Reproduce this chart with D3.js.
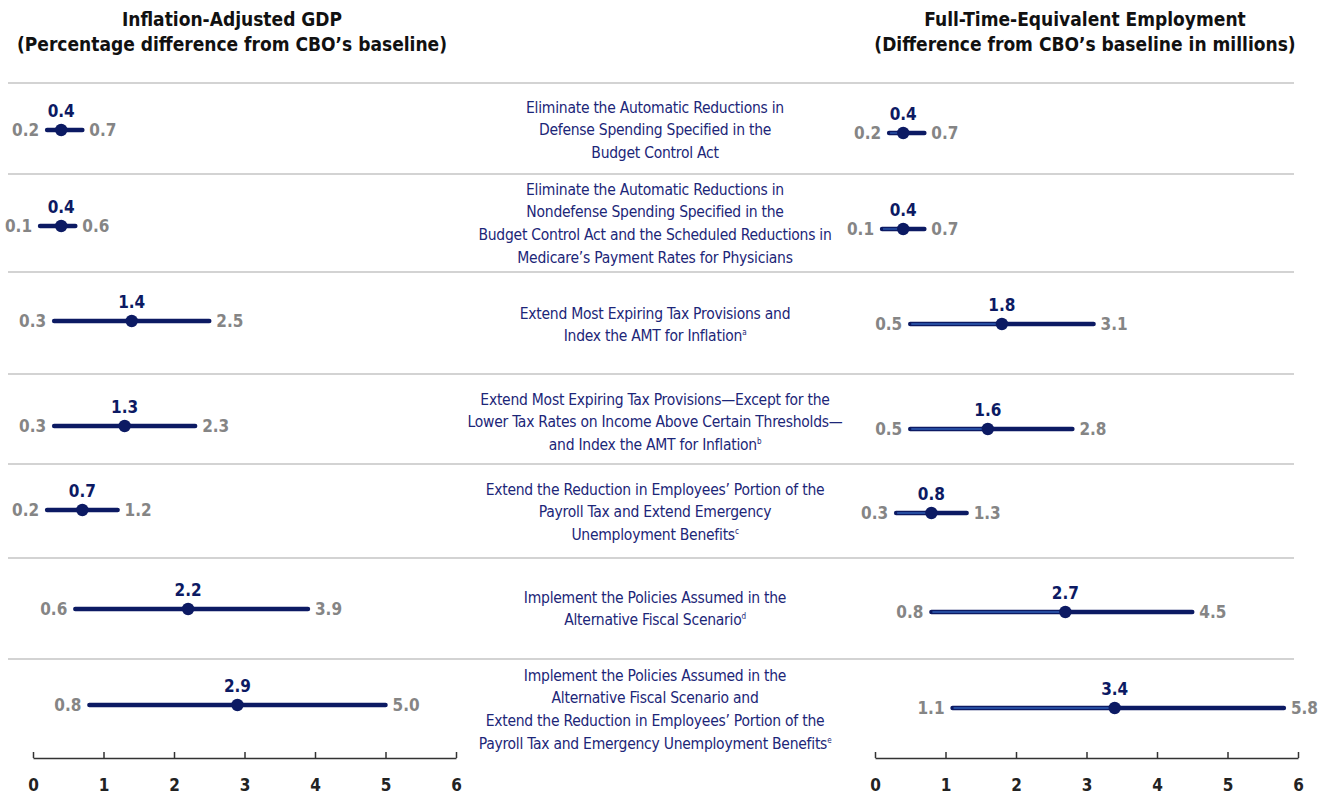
<!DOCTYPE html>
<html>
<head>
<meta charset="utf-8">
<script src="https://cdn.jsdelivr.net/npm/d3@7"></script>
<style>
  html, body { margin: 0; padding: 0; background: #fff; }
  svg { display: block; }
</style>
</head>
<body>
<svg id="chart" width="1329" height="797"></svg>
<script>
// Policy options (multi-line labels, optional footnote letter)
const policies = [
  { lines: ["Eliminate the Automatic Reductions in", "Defense Spending Specified in the", "Budget Control Act"], note: "" },
  { lines: ["Eliminate the Automatic Reductions in", "Nondefense Spending Specified in the", "Budget Control Act and the Scheduled Reductions in", "Medicare\u2019s Payment Rates for Physicians"], note: "" },
  { lines: ["Extend Most Expiring Tax Provisions and", "Index the AMT for Inflation"], note: "a" },
  { lines: ["Extend Most Expiring Tax Provisions\u2014Except for the", "Lower Tax Rates on Income Above Certain Thresholds\u2014", "and Index the AMT for Inflation"], note: "b" },
  { lines: ["Extend the Reduction in Employees\u2019 Portion of the", "Payroll Tax and Extend Emergency", "Unemployment Benefits"], note: "c" },
  { lines: ["Implement the Policies Assumed in the", "Alternative Fiscal Scenario"], note: "d" },
  { lines: ["Implement the Policies Assumed in the", "Alternative Fiscal Scenario and", "Extend the Reduction in Employees\u2019 Portion of the", "Payroll Tax and Emergency Unemployment Benefits"], note: "e" }
];

// Inflation-adjusted GDP, percentage difference from baseline
const gdpLow  = [0.2, 0.1, 0.3, 0.3, 0.2, 0.6, 0.8];
const gdpMid  = [0.4, 0.4, 1.4, 1.3, 0.7, 2.2, 2.9];
const gdpHigh = [0.7, 0.6, 2.5, 2.3, 1.2, 3.9, 5.0];

// Full-time-equivalent employment, millions
const empLow  = [0.2, 0.1, 0.5, 0.5, 0.3, 0.8, 1.1];
const empMid  = [0.4, 0.4, 1.8, 1.6, 0.8, 2.7, 3.4];
const empHigh = [0.7, 0.7, 3.1, 2.8, 1.3, 4.5, 5.8];

const axisTicks = [0, 1, 2, 3, 4, 5, 6];

const NAVY = "#0c1a63";
const LABEL_NAVY = "#1c2678";
const GREY = "#858585";
const FONT = "'Liberation Sans Narrow', 'DejaVu Sans Condensed', 'Open Sans', sans-serif";

const svg = d3.select("#chart");

// Row geometry: separator lines, dot rows, text line baselines
const separators = [83, 174, 272, 374, 464, 558, 659];
const rowY = [130, 226, 321, 426, 510, 609, 705];
const textTop = [107, 189, 313, 399, 489, 597, 675];
const lineH = 22.8;

svg.selectAll("line.sep").data(separators).join("line")
  .attr("class", "sep")
  .attr("x1", 8).attr("x2", 1294)
  .attr("y1", d => d).attr("y2", d => d)
  .attr("stroke", "#c4c4c4").attr("stroke-width", 1.5);

// Panel titles
const titles = [
  { x: 232, lines: ["Inflation-Adjusted GDP", "(Percentage difference from CBO\u2019s baseline)"] },
  { x: 1085, lines: ["Full-Time-Equivalent Employment", "(Difference from CBO\u2019s baseline in millions)"] }
];
titles.forEach(t => {
  const tx = svg.append("text")
    .attr("x", t.x).attr("y", 26)
    .attr("text-anchor", "middle")
    .attr("font-family", FONT)
    .attr("font-weight", "bold")
    .attr("font-size", 19)
    .attr("fill", "#111");
  t.lines.forEach((l, i) => tx.append("tspan").attr("x", t.x).attr("dy", i ? 25 : 0).text(l));
});

// Centre policy labels
policies.forEach((p, i) => {
  const g = svg.append("text")
    .attr("text-anchor", "middle")
    .attr("font-family", FONT)
    .attr("font-size", 15.5)
    .attr("letter-spacing", -0.25)
    .attr("fill", LABEL_NAVY);
  p.lines.forEach((l, j) => {
    g.append("tspan").attr("x", 655).attr("y", textTop[i] + j * lineH + 5.5).text(l);
    if (j === p.lines.length - 1 && p.note) {
      g.append("tspan").attr("dy", -6).attr("font-size", 8).text(p.note);
    }
  });
});

function panel(x0, yOff, low, mid, high, stripe) {
  const x = d3.scaleLinear().domain([0, 6]).range([x0, x0 + 423]);
  const g = svg.append("g");
  const rows = low.map((d, i) => ({ lo: d, mid: mid[i], hi: high[i], y: rowY[i] + yOff }));

  g.selectAll("line.range").data(rows).join("line")
    .attr("x1", d => x(d.lo)).attr("x2", d => x(d.hi))
    .attr("y1", d => d.y).attr("y2", d => d.y)
    .attr("stroke", NAVY).attr("stroke-width", 4.5).attr("stroke-linecap", "round");

  if (stripe) {
    g.selectAll("line.stripe").data(rows).join("line")
      .attr("x1", d => x(d.lo) + 1).attr("x2", d => x(d.mid))
      .attr("y1", d => d.y).attr("y2", d => d.y)
      .attr("stroke", "#2f5eb4").attr("stroke-width", 1.3);
  }

  g.selectAll("circle").data(rows).join("circle")
    .attr("cx", d => x(d.mid)).attr("cy", d => d.y).attr("r", 6.2)
    .attr("fill", NAVY);

  const lbl = (sel) => sel.attr("font-family", FONT).attr("font-weight", "bold").attr("font-size", 17);

  g.selectAll("text.mid").data(rows).join("text")
    .call(lbl)
    .attr("x", d => x(d.mid)).attr("y", d => d.y - 13)
    .attr("text-anchor", "middle").attr("fill", NAVY)
    .text(d => d.mid.toFixed(1));

  g.selectAll("text.lo").data(rows).join("text")
    .call(lbl)
    .attr("x", d => x(d.lo) - 8).attr("y", d => d.y + 6)
    .attr("text-anchor", "end").attr("fill", GREY)
    .text(d => d.lo.toFixed(1));

  g.selectAll("text.hi").data(rows).join("text")
    .call(lbl)
    .attr("x", d => x(d.hi) + 7).attr("y", d => d.y + 6)
    .attr("text-anchor", "start").attr("fill", GREY)
    .text(d => d.hi.toFixed(1));

  // Bottom axis
  const axis = d3.axisBottom(x).tickValues(axisTicks).tickSize(0).tickPadding(0).tickFormat(d3.format("d"));
  const ax = svg.append("g").attr("transform", "translate(0,758)").call(axis);
  ax.select(".domain").attr("stroke", "#333").attr("stroke-width", 1.5);
  ax.selectAll(".tick line").attr("y1", 0).attr("y2", -6).attr("stroke", "#333").attr("stroke-width", 1.5);
  ax.selectAll(".tick text")
    .attr("y", 33).attr("dy", 0)
    .attr("font-family", FONT).attr("font-weight", "bold").attr("font-size", 17).attr("fill", "#222");
}

panel(33, 0, gdpLow, gdpMid, gdpHigh, false);
panel(875, 3, empLow, empMid, empHigh, true);
</script>
</body>
</html>
